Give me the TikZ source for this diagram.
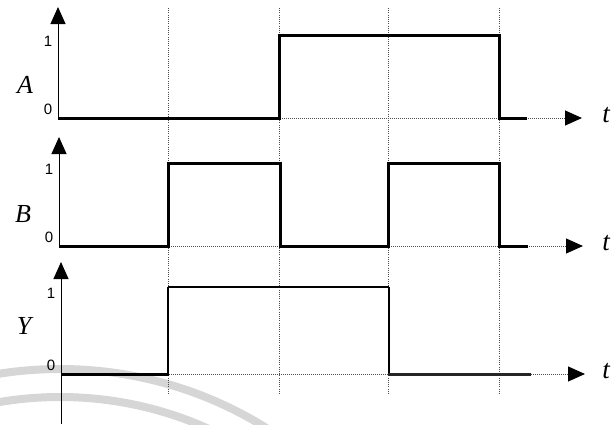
\documentclass[tikz,border=0pt]{standalone}
\usepackage{fontspec}
\setmainfont{Liberation Serif}
\newfontfamily\digitfont{Liberation Sans}
\usetikzlibrary{arrows.meta}

\tikzset{
  axisline/.style={line width=1.0pt, -{Triangle[width=15pt,length=17pt]}},
  timeline/.style={line width=1.0pt, gray!60!black, dash pattern=on 1pt off 1pt,
                   -{Triangle[width=15pt,length=17pt,black]}},
  guide/.style={line width=1.0pt, gray!60!black, dash pattern=on 1pt off 1.2pt},
  wave/.style={line width=3.0pt, line join=miter, line cap=butt},
  lvl/.style={font=\digitfont\fontsize{15}{18}\selectfont, inner sep=0pt},
  sig/.style={font=\itshape\fontsize{26}{31}\selectfont, inner sep=0pt},
  tlabel/.style={font=\itshape\fontsize{27}{32}\selectfont, inner sep=0pt},
}

\begin{document}
\begin{tikzpicture}[x=1pt, y=-1pt]

  %% ════ 底部水印弧（浅灰） ════
  \begin{scope}
    \clip (0,0) rectangle (614,424);
    \draw[line width=8pt, black!16] (60,759) circle (390);
    \draw[line width=8pt, black!16] (60,759) circle (362);
  \end{scope}

  %% ════ 竖直虚线（时刻） ════
  \foreach \x in {168,279,388,499}
    \draw[guide] (\x,8) -- (\x,395);

  %% ════ 三组坐标轴 ════
  %% 名字/轴x/0电平/1电平/轴顶/轴底/箭头端x
  \foreach \n/\ax/\lo/\hi/\top/\bot/\tx in {%
      A/58/118/35/7/118/582,
      B/59/246/163/137/246/583,
      Y/61/374/287/262/424/585}{
    \coordinate (o\n) at (\ax,\lo);
    \coordinate (top\n) at (\ax,\top);
    \coordinate (end\n) at (\tx,\lo);
    \draw[axisline] (\ax,\bot) -- (top\n);
    \draw[timeline] (o\n) -- (end\n);
    \node[lvl] (one\n) at (\ax-10,\hi+6) {1};
    \node[lvl] (zero\n) at (\ax-10,\lo-9) {0};
    \node[tlabel] (t\n) at (606,\lo-3) {t};
  }
  \node[sig] (labA) at (25,85) {A};
  \node[sig] (labB) at (23,214) {B};
  \node[sig] (labY) at (24,326) {Y};

  %% ════ 波形 ════
  \draw[wave] (oA) -- (279,118) -- (279,35) -- (499,35) -- (499,118) -- (527,118);
  \draw[wave] (oB) -- (168,246) -- (168,163) -- (280,163) -- (280,246)
              -- (388,246) -- (388,163) -- (499,163) -- (499,246) -- (528,246);
  % Y：高电平一段线细，两段低电平较粗
  \draw[wave] (oY) -- (168,374);
  \draw[wave, line width=2.5pt] (168,375.5) -- (168,287);
  \draw[line width=1.6pt] (168,287) -- (389,287);
  \draw[wave, line width=2.5pt] (389,287) -- (389,374);
  \draw[wave, black!85] (388,374) -- (531,374);

  \pgfresetboundingbox
  \path[use as bounding box] (0,0) rectangle (614,424);
\end{tikzpicture}
\end{document}
